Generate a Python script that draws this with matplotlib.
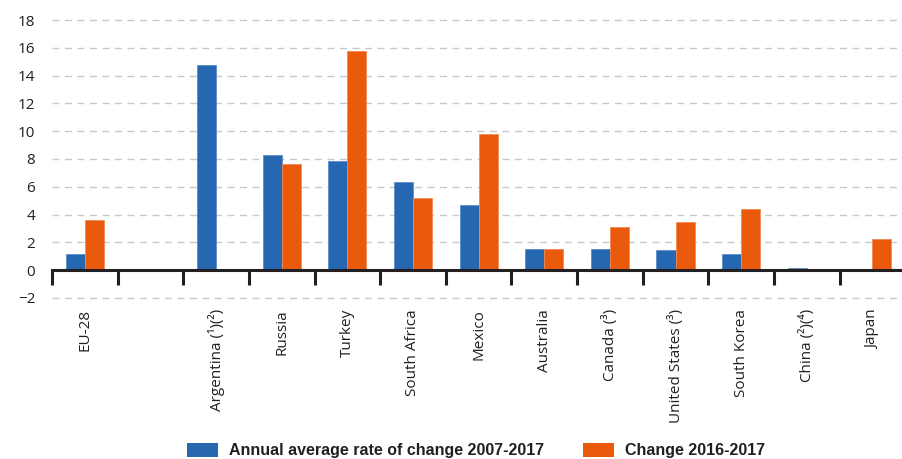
import numpy as np
import matplotlib
matplotlib.use("Agg")
import matplotlib.pyplot as plt
from matplotlib.patches import Patch

# =====================================================
# DATA
# =====================================================

categories = [
    "EU-28",
    "",
    "Argentina (¹)(²)",
    "Russia",
    "Turkey",
    "South Africa",
    "Mexico",
    "Australia",
    "Canada (³)",
    "United States (³)",
    "South Korea",
    "China (²)(⁴)",
    "Japan",
]

annual_avg = [1.13, np.nan, 14.73, 8.28, 7.87, 6.38, 4.66, 1.51, 1.49, 1.42, 1.2, 0.14, np.nan]
change_16_17 = [3.6, np.nan, np.nan, 7.61, 15.79, 5.16, 9.82, 1.53, 3.1, 3.45, 4.41, np.nan, 2.21]

series_names = ["Annual average rate of change 2007-2017", "Change 2016-2017"]
yticks = [-2, 0, 2, 4, 6, 8, 10, 12, 14, 16, 18]

BLUE = "#2667b1"
ORANGE = "#e95a0c"
TEXT = "#231f20"

# =====================================================
# PLOT
# =====================================================

fig = plt.figure(figsize=(9.02, 4.59), dpi=100)
ax = fig.add_axes([0.0576, 0.3508, 0.946, 0.6056])

x = np.arange(len(categories))
w = 0.29

ax.bar(x - w / 2, annual_avg, width=w, color=BLUE, edgecolor="#5d8ccb", linewidth=0.6, zorder=3)
ax.bar(x + w / 2, change_16_17, width=w, color=ORANGE, edgecolor="#f28a55", linewidth=0.6, zorder=3)

ax.set_xlim(-0.5, len(categories) - 0.5)
ax.set_ylim(-2, 18)

# dashed grid (skip zero, the axis line sits there)
for v in yticks:
    if v != 0:
        ax.axhline(v, color="#c8c8c8", linestyle=(0, (5, 4)), linewidth=1.0, zorder=1, clip_on=False)

for s in ["top", "right", "left"]:
    ax.spines[s].set_visible(False)
ax.spines["bottom"].set_position(("data", 0))
ax.spines["bottom"].set_linewidth(2.2)
ax.spines["bottom"].set_color(TEXT)
ax.spines["bottom"].set_zorder(4)

ax.set_yticks(yticks)
ax.set_yticklabels([f"{v}" if v >= 0 else f"\u2212{abs(v)}" for v in yticks],
                   fontsize=11, color=TEXT, family="Open Sans")
ax.tick_params(axis="y", length=0, pad=12)

ax.set_xticks(x)
ax.set_xticklabels(categories, rotation=90, va="top", ha="center",
                   fontsize=11, color=TEXT, family="Open Sans")
ax.set_xticks(np.arange(len(categories)) - 0.5, minor=True)
ax.tick_params(axis="x", which="major", length=0, pad=28)
ax.tick_params(axis="x", which="minor", length=11, width=2.2, color=TEXT, direction="out")

# =====================================================
# LEGEND
# =====================================================

handles = [Patch(facecolor=BLUE), Patch(facecolor=ORANGE)]
leg = fig.legend(
    handles, series_names,
    loc="lower center", bbox_to_anchor=(0.528, -0.03), ncol=2, frameon=False,
    handlelength=1.95, handleheight=1.0, handletextpad=0.7, columnspacing=2.4,
    prop={"family": ["Liberation Sans Narrow", "Liberation Sans", "DejaVu Sans"],
          "weight": "bold", "size": 11.5},
)
for t in leg.get_texts():
    t.set_color(TEXT)

fig.savefig("out.png", dpi=100)
plt.close(fig)
